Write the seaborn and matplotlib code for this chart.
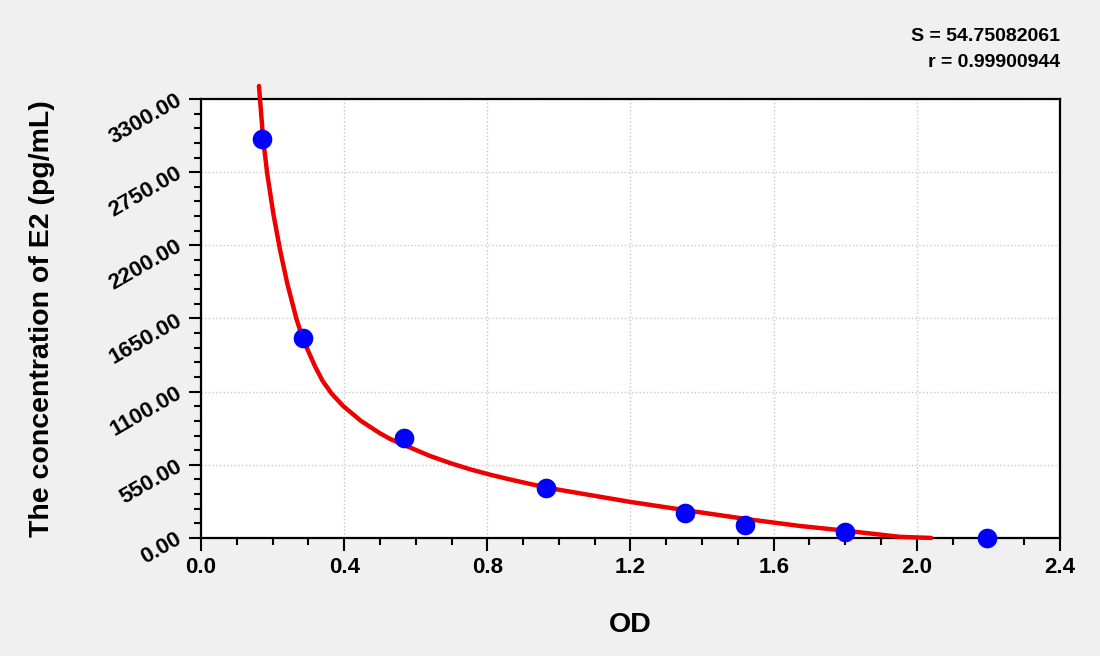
import numpy as np
import pandas as pd
import matplotlib
matplotlib.use('Agg')
import matplotlib.pyplot as plt
from matplotlib.ticker import MultipleLocator, FormatStrFormatter
import seaborn as sns

# standard points (OD vs concentration)
std_od = [0.170, 0.285, 0.567, 0.964, 1.352, 1.520, 1.799, 2.196]
std_conc = [3000, 1500, 750, 375, 187.5, 93.75, 46.88, 0]

# fitted curve
curve_od = [0.162, 0.174, 0.185, 0.202, 0.221, 0.241, 0.267, 0.286, 0.319, 0.340,
            0.365, 0.398, 0.447, 0.500, 0.528, 0.556, 0.584, 0.640, 0.696, 0.752,
            0.807, 0.863, 0.919, 0.975, 1.031, 1.199, 1.357, 1.524, 1.673, 1.795,
            1.953, 2.040]
curve_conc = [3398, 2992, 2741, 2441, 2165, 1915, 1644, 1488, 1288, 1180,
              1085, 990, 880, 787, 745, 712, 680, 616, 563, 516,
              476, 440, 406, 374, 348, 271, 207, 142, 90, 56,
              8, 0]

fit_s = 'S = 54.75082061'
fit_r = 'r = 0.99900944'

pts = pd.DataFrame({'OD': std_od, 'Conc': std_conc})
fit = pd.DataFrame({'OD': curve_od, 'Conc': curve_conc})

sns.set_style('white')
plt.rcParams['font.family'] = ['Liberation Sans', 'DejaVu Sans']
plt.rcParams['font.weight'] = 'bold'
plt.rcParams['text.color'] = 'black'
plt.rcParams['axes.labelcolor'] = 'black'

fig = plt.figure(figsize=(11, 6.56), dpi=100, facecolor='#f0f0f0')
ax = fig.add_axes([0.1827, 0.18, 0.7809, 0.669])
ax.set_facecolor('white')

sns.lineplot(data=fit, x='OD', y='Conc', ax=ax, color='#ee0000', linewidth=3.2,
             sort=False, estimator=None, clip_on=False, zorder=3)
sns.scatterplot(data=pts, x='OD', y='Conc', ax=ax, color='#0000ff', s=200,
                edgecolor='#0000ff', linewidth=0, clip_on=False, zorder=4)

ax.set_xlim(0, 2.4)
ax.set_ylim(0, 3300)
ax.xaxis.set_major_locator(MultipleLocator(0.4))
ax.xaxis.set_minor_locator(MultipleLocator(0.1))
ax.yaxis.set_major_locator(MultipleLocator(550))
ax.yaxis.set_minor_locator(MultipleLocator(110))
ax.xaxis.set_major_formatter(FormatStrFormatter('%.1f'))
ax.yaxis.set_major_formatter(FormatStrFormatter('%.2f'))

ax.grid(True, which='major', color='#c8c8c8', linestyle=':', linewidth=1.0)
for sp in ax.spines.values():
    sp.set_color('black')
    sp.set_linewidth(1.6)
    sp.set_visible(True)

ax.tick_params(axis='both', which='major', direction='out', length=9, width=1.5,
               colors='black', labelsize=16)
ax.tick_params(axis='both', which='minor', direction='out', length=5, width=1.5,
               colors='black')
ax.tick_params(axis='x', which='major', pad=5)
ax.tick_params(axis='y', which='major', pad=6)
ax.tick_params(bottom=True, left=True, which='both')
for lab in ax.get_yticklabels():
    lab.set_rotation(30)
    lab.set_ha('right')
    lab.set_va('center')
    lab.set_rotation_mode('anchor')
    lab.set_fontweight('bold')
for lab in ax.get_xticklabels():
    lab.set_fontweight('bold')

ax.set_xlabel('OD', fontsize=20.5, fontweight='bold', labelpad=24)
ax.set_ylabel('The concentration of E2 (pg/mL)', fontsize=20.5, fontweight='bold', labelpad=36)

fig.text(0.9636, 0.945, fit_s, ha='right', va='center', fontsize=14, fontweight='bold')
fig.text(0.9636, 0.905, fit_r, ha='right', va='center', fontsize=14, fontweight='bold')

fig.savefig('out.png', dpi=100, facecolor=fig.get_facecolor())
